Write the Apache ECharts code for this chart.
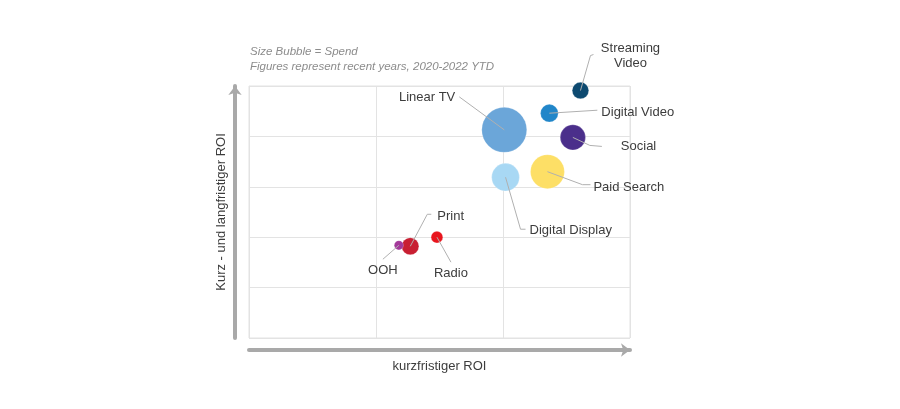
<!DOCTYPE html>
<html>
<head>
<meta charset="utf-8">
<script src="https://cdn.jsdelivr.net/npm/echarts@6/dist/echarts.min.js"></script>
<style>html,body{margin:0;padding:0;background:#fff}#c{width:900px;height:409px}</style>
</head>
<body>
<div id="c"></div>
<script>
// ---- data ----
const channels = ['Streaming\nVideo','Digital Video','Linear TV','Social','Paid Search','Digital Display','Print','OOH','Radio'];
const shortRoi = [2.61, 2.365, 2.01, 2.55, 2.35, 2.02, 1.27, 1.18, 1.48];
const totalRoi = [4.91, 4.46, 4.13, 3.98, 3.30, 3.19, 1.82, 1.84, 2.00];
const spend    = [13.5, 15.5, 100, 31.5, 57, 38, 14.5, 4.2, 6.8];

// ---- styles ----
const colors = ['#0d4a70','#2186c9','#6ba6d9','#4b2f8b','#fddf66','#a8d8f4','#c81f32','#a3399a','#e8161e'];
// leader line bend points and text anchor, pixel offsets from bubble centre
const labelPos = [
  {line:[[10,-35],[13,-36]], text:[50,-35], align:'center'},
  {line:[[48,-3]], text:[52,-1], align:'left'},
  {line:[[-45,-33]], text:[-49,-32], align:'right'},
  {line:[[17,8],[29,9]], text:[48,9], align:'left'},
  {line:[[35,13],[43,13]], text:[46,16], align:'left'},
  {line:[[15,52],[20,52]], text:[24,53], align:'left'},
  {line:[[17,-32],[21,-32]], text:[27,-30], align:'left'},
  {line:[[-16,14]], text:[-16,25], align:'center'},
  {line:[[14,25]], text:[14,36], align:'center'}
];
const sizeK = 4.5;

const points = channels.map((n,i)=>[shortRoi[i], totalRoi[i], spend[i], i]);

const chart = echarts.init(document.getElementById('c'));
const font = 'Arial, "Liberation Sans", sans-serif';
chart.setOption({
  animation:false,
  title:{
    text:'Size Bubble = Spend\nFigures represent recent years, 2020-2022 YTD',
    left:250, top:44, padding:0,
    textStyle:{fontSize:11.5, fontStyle:'italic', fontWeight:'normal', color:'#8c8c8c', lineHeight:15, fontFamily:font}
  },
  grid:{left:249, top:86, width:381, height:252, show:true, borderColor:'#e3e3e3', borderWidth:1},
  xAxis:{
    type:'value', min:0, max:3, interval:1, offset:12,
    name:'kurzfristiger ROI', nameLocation:'middle', nameGap:10,
    nameTextStyle:{fontSize:13, color:'#3c3c3c', fontFamily:font},
    axisLine:{show:true, onZero:false, symbol:['none','arrow'], symbolSize:[10,9], lineStyle:{color:'#a9a9a9', width:4}},
    axisTick:{show:false}, axisLabel:{show:false},
    splitLine:{show:true, lineStyle:{color:'#e3e3e3', width:1}}
  },
  yAxis:{
    type:'value', min:0, max:5, interval:1, offset:14,
    name:'Kurz - und langfristiger ROI', nameLocation:'middle', nameGap:7,
    nameTextStyle:{fontSize:13, color:'#3c3c3c', fontFamily:font},
    axisLine:{show:true, onZero:false, symbol:['none','arrow'], symbolSize:[10,9], lineStyle:{color:'#a9a9a9', width:4}},
    axisTick:{show:false}, axisLabel:{show:false},
    splitLine:{show:true, lineStyle:{color:'#e3e3e3', width:1}}
  },
  series:[
    {
      type:'scatter',
      data:points,
      symbolSize:(v)=>Math.sqrt(v[2])*sizeK,
      itemStyle:{opacity:1, color:(p)=>colors[p.data[3]], borderColor:'rgba(255,255,255,0.35)', borderWidth:0.6},
      z:2
    },
    {
      type:'custom',
      data:points,
      z:3,
      renderItem:(params, api)=>{
        const i = api.value(3);
        const c = api.coord([api.value(0), api.value(1)]);
        const lp = labelPos[i];
        const pts = [c].concat(lp.line.map(o=>[c[0]+o[0], c[1]+o[1]]));
        return {type:'group', children:[
          {type:'polyline', shape:{points:pts}, style:{stroke:'#b0b0b0', lineWidth:1, fill:null}},
          {type:'text', x:c[0]+lp.text[0], y:c[1]+lp.text[1],
           style:{text:channels[i], fill:'#3c3c3c', fontSize:13, fontFamily:font,
                  align:lp.align, verticalAlign:'middle', lineHeight:15}}
        ]};
      }
    }
  ]
});
</script>
</body>
</html>
